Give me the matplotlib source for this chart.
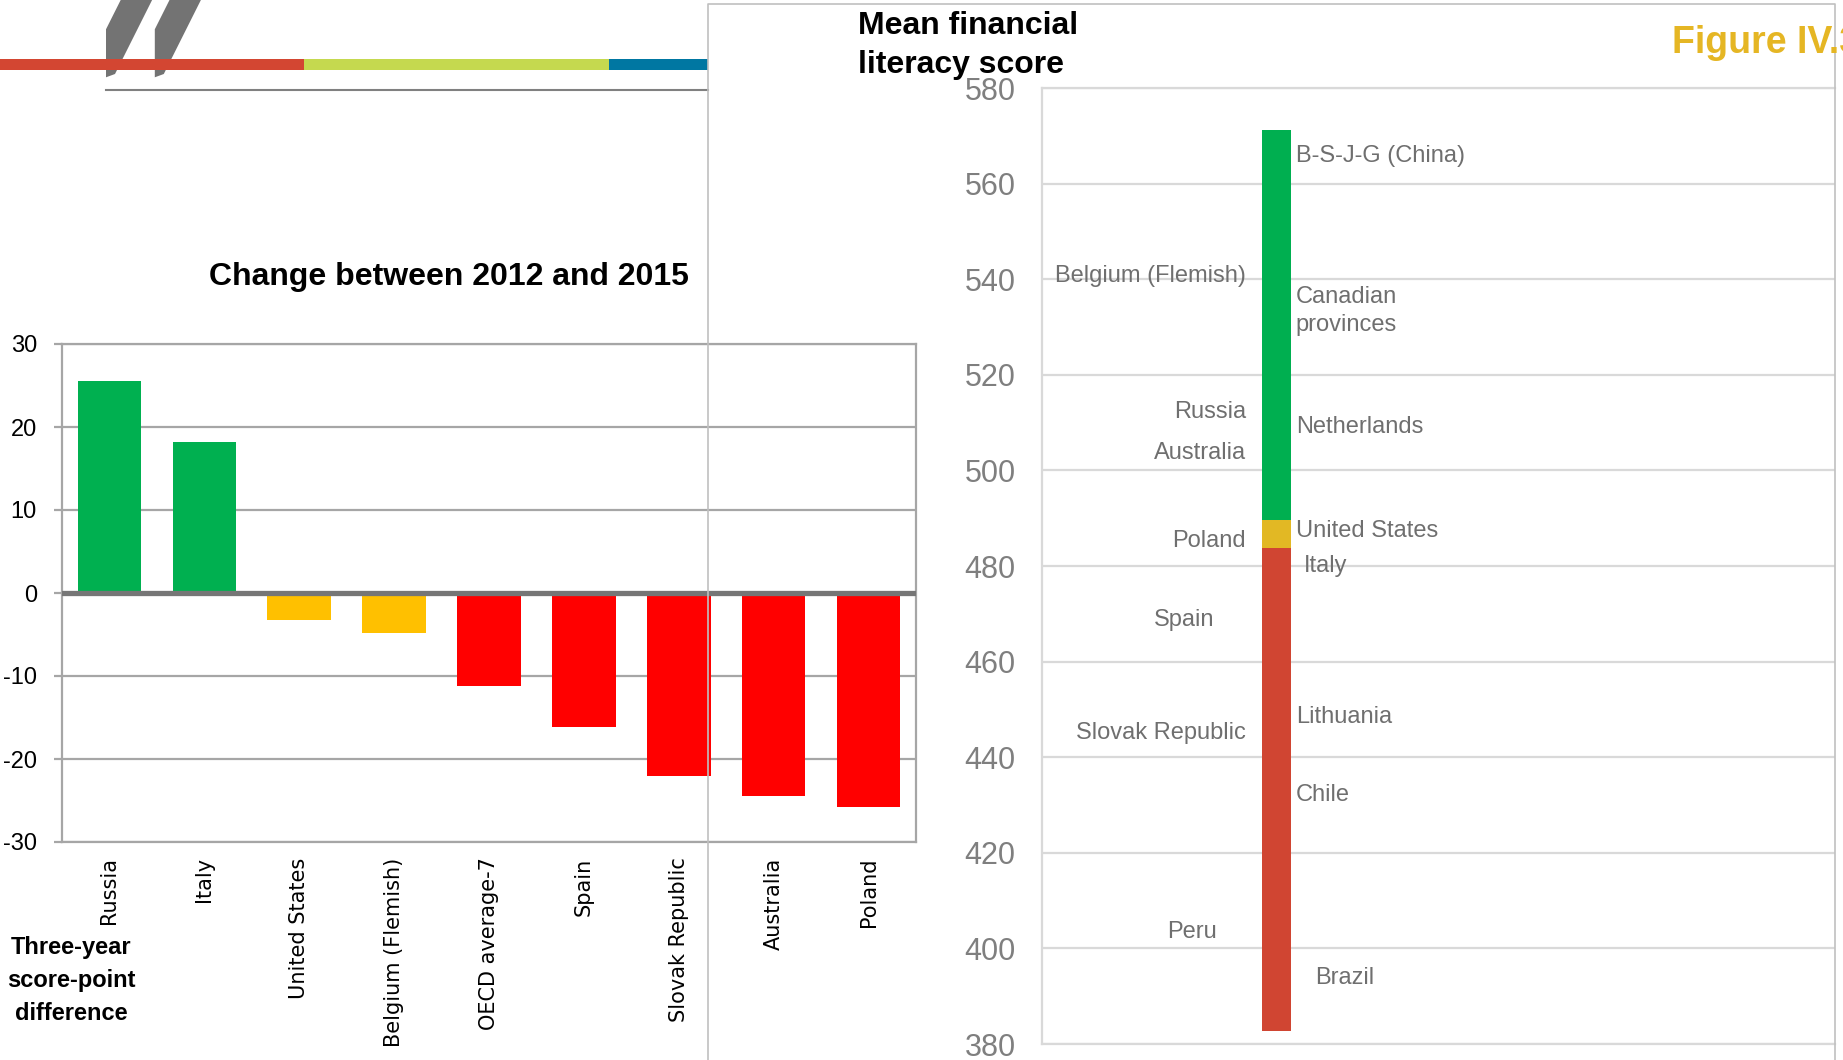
import matplotlib
matplotlib.use('Agg')
import matplotlib.pyplot as plt
from matplotlib import font_manager
from matplotlib.patches import Rectangle, Polygon

# change in financial literacy score, 2012 -> 2015
countries = ['Russia', 'Italy', 'United States', 'Belgium (Flemish)', 'OECD average-7',
             'Spain', 'Slovak Republic', 'Australia', 'Poland']
change = [25.5, 18.2, -3.2, -4.8, -11.2, -16.2, -22.0, -24.4, -25.8]
change_colors = ['#00B050', '#00B050', '#FFC000', '#FFC000', '#FF0000',
                 '#FF0000', '#FF0000', '#FF0000', '#FF0000']

# mean score scale: coloured band and labelled countries
band_edges = [382.8, 483.8, 489.7, 571.2]
band_colors = ['#D04532', '#E2B824', '#00AF50']
left_names = ['Belgium (Flemish)', 'Russia', 'Australia', 'Poland', 'Spain',
              'Slovak Republic', 'Peru']
left_scores = [540.6, 512.2, 503.6, 485.3, 468.7, 445.1, 403.5]
right_names = ['B-S-J-G (China)', 'Canadian\nprovinces', 'Netherlands', 'United States',
               'Italy', 'Lithuania', 'Chile', 'Brazil']
right_scores = [565.8, 533.4, 509.0, 487.3, 479.9, 448.5, 432.0, 393.8]
score_ticks = list(range(380, 581, 20))

plt.rcParams['axes.unicode_minus'] = False

names = {f.name for f in font_manager.fontManager.ttflist}
narrow = 'Liberation Sans Narrow' if 'Liberation Sans Narrow' in names else 'Liberation Sans'
arial = 'Liberation Sans'

W, H = 1843, 1060
fig = plt.figure(figsize=(W / 100, H / 100), dpi=100)


def box(x0, y0, x1, y1):
    return [x0 / W, 1 - y1 / H, (x1 - x0) / W, (y1 - y0) / H]


# ---- left: bar chart of changes
ax1 = fig.add_axes(box(62, 344, 916, 842))
grid1 = '#A6A6A6'
ax1.bar(range(len(countries)), change, width=0.67, color=change_colors, zorder=2)
ax1.axhline(0, color='#767676', lw=3.8, zorder=3)
ax1.set_xlim(-0.5, len(countries) - 0.5)
ax1.set_ylim(-30, 30)
ax1.set_yticks(range(-30, 31, 10))
ax1.yaxis.grid(True, color=grid1, lw=1.6, zorder=0)
ax1.set_axisbelow(True)
for s in ax1.spines.values():
    s.set_color(grid1)
    s.set_linewidth(1.6)
ax1.set_xticks(range(len(countries)))
ax1.set_xticklabels(countries, rotation=90, fontsize=15, family='DejaVu Sans')
ax1.tick_params(axis='x', length=0, pad=11)
ax1.tick_params(axis='y', length=6, width=1.6, color=grid1, pad=12, labelsize=17)
for lab in ax1.get_yticklabels():
    lab.set_family(narrow)

# ---- right: score scale
ax2 = fig.add_axes(box(1042, 88, 1835, 1044))
grid2 = '#D9D9D9'
bar_x = 0.2957
for lo, hi, c in zip(band_edges[:-1], band_edges[1:], band_colors):
    ax2.bar(bar_x, hi - lo, bottom=lo, width=0.0366, color=c, zorder=2)
ax2.set_xlim(0, 1)
ax2.set_ylim(380, 580)
ax2.set_yticks(score_ticks)
ax2.set_xticks([])
ax2.yaxis.grid(True, color=grid2, lw=1.6, zorder=0)
ax2.set_axisbelow(True)
for side, s in ax2.spines.items():
    s.set_color(grid2)
    s.set_linewidth(1.6)
    if side == 'right':
        s.set_visible(False)
ax2.tick_params(axis='y', length=0, pad=19, labelsize=22, labelcolor='#7F7F7F')
for lab in ax2.get_yticklabels():
    lab.set_family(arial)

label_color = '#6F6F6F'
left_x = {'Spain': 0.218, 'Peru': 0.221}
right_x = {'Italy': 0.330, 'Brazil': 0.344}
for n, v in zip(left_names, left_scores):
    ax2.text(left_x.get(n, 0.257), v, n, ha='right', va='center', fontsize=17,
             color=label_color, family=arial, zorder=3)
for n, v in zip(right_names, right_scores):
    ax2.text(right_x.get(n, 0.320), v, n, ha='left', va='center', fontsize=17,
             color=label_color, family=arial, zorder=3, linespacing=1.35)

# ---- page furniture drawn in pixel coordinates
ov = fig.add_axes([0, 0, 1, 1], zorder=5)
ov.set_xlim(0, W)
ov.set_ylim(H, 0)
ov.axis('off')
ov.patch.set_alpha(0)

quote = [(120.7, 0), (152.1, 0), (115, 74), (106, 77.3), (106, 29.3)]
for dx in (0, 48.8):
    ov.add_patch(Polygon([(x + dx, y) for x, y in quote], closed=True,
                         color='#737373', lw=0, zorder=1))
ov.add_patch(Rectangle((0, 59), 304, 11, color='#D34632', lw=0, zorder=2))
ov.add_patch(Rectangle((304, 59), 305, 11, color='#C5D94F', lw=0, zorder=2))
ov.add_patch(Rectangle((609, 59), 99, 11, color='#0077A2', lw=0, zorder=2))
ov.plot([106, 708], [90, 90], color='#808080', lw=1.5, zorder=2)

# panel frame around the score scale
ov.plot([708, 708, 1835, 1835], [H, 4, 4, H], color='#C0C0C0', lw=1.2, zorder=3)

ov.text(448.5, 277.5, 'Change between 2012 and 2015', ha='center', va='center',
        fontsize=23, fontweight='bold', family=arial)
for y, t in zip([947.7, 981, 1013], ['Three-year', 'score-point', 'difference']):
    ov.text(71, y, t, ha='center', va='center', fontsize=17, fontweight='bold', family=narrow)
ov.text(857.5, 34, 'Mean financial', ha='left', va='baseline', fontsize=23,
        fontweight='bold', family=arial)
ov.text(857.5, 72.5, 'literacy score', ha='left', va='baseline', fontsize=23,
        fontweight='bold', family=arial)
ov.text(1671.7, 53.3, 'Figure IV.3', ha='left', va='baseline', fontsize=27,
        fontweight='bold', color='#E5B624', family=arial)

fig.savefig('out.png', dpi=100)
